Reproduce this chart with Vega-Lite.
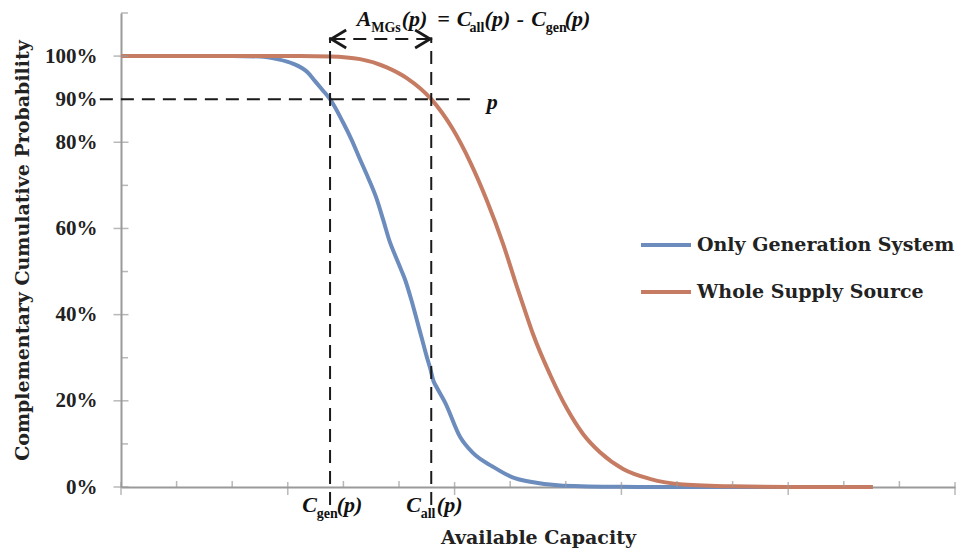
{
  "$schema": "https://vega.github.io/schema/vega-lite/v6.json",
  "width": 834,
  "height": 474,
  "autosize": {"type": "none"},
  "padding": {"left": 121, "top": 13, "right": 5, "bottom": 61},
  "background": "white",
  "config": {"view": {"stroke": null}},
  "datasets": {
    "curves": [
      {"series": "Only Generation System", "x": 0, "y": 100},
      {"series": "Only Generation System", "x": 1, "y": 100},
      {"series": "Only Generation System", "x": 2, "y": 100},
      {"series": "Only Generation System", "x": 2.5, "y": 99.9},
      {"series": "Only Generation System", "x": 2.81, "y": 99.3},
      {"series": "Only Generation System", "x": 3.1, "y": 98.2},
      {"series": "Only Generation System", "x": 3.35, "y": 96.3},
      {"series": "Only Generation System", "x": 3.49, "y": 94.2},
      {"series": "Only Generation System", "x": 3.62, "y": 92.2},
      {"series": "Only Generation System", "x": 3.76, "y": 90.0},
      {"series": "Only Generation System", "x": 3.99, "y": 84.7},
      {"series": "Only Generation System", "x": 4.15, "y": 80.5},
      {"series": "Only Generation System", "x": 4.30, "y": 76.0},
      {"series": "Only Generation System", "x": 4.45, "y": 71.6},
      {"series": "Only Generation System", "x": 4.60, "y": 66.8},
      {"series": "Only Generation System", "x": 4.72, "y": 61.8},
      {"series": "Only Generation System", "x": 4.84, "y": 56.7},
      {"series": "Only Generation System", "x": 4.93, "y": 53.8},
      {"series": "Only Generation System", "x": 5.02, "y": 51.0},
      {"series": "Only Generation System", "x": 5.11, "y": 48.1},
      {"series": "Only Generation System", "x": 5.22, "y": 43.5},
      {"series": "Only Generation System", "x": 5.32, "y": 38.8},
      {"series": "Only Generation System", "x": 5.41, "y": 34.5},
      {"series": "Only Generation System", "x": 5.50, "y": 30.2},
      {"series": "Only Generation System", "x": 5.56, "y": 27.6},
      {"series": "Only Generation System", "x": 5.62, "y": 24.6},
      {"series": "Only Generation System", "x": 5.68, "y": 23.1},
      {"series": "Only Generation System", "x": 5.83, "y": 19.6},
      {"series": "Only Generation System", "x": 6.10, "y": 11.6},
      {"series": "Only Generation System", "x": 6.33, "y": 7.9},
      {"series": "Only Generation System", "x": 6.69, "y": 4.7},
      {"series": "Only Generation System", "x": 7.03, "y": 2.3},
      {"series": "Only Generation System", "x": 7.36, "y": 1.2},
      {"series": "Only Generation System", "x": 7.95, "y": 0.3},
      {"series": "Only Generation System", "x": 8.97, "y": 0.05},
      {"series": "Only Generation System", "x": 10, "y": 0},
      {"series": "Only Generation System", "x": 13.52, "y": 0},
      {"series": "Whole Supply Source", "x": 0, "y": 100},
      {"series": "Whole Supply Source", "x": 2, "y": 100},
      {"series": "Whole Supply Source", "x": 3.22, "y": 100},
      {"series": "Whole Supply Source", "x": 3.76, "y": 99.9},
      {"series": "Whole Supply Source", "x": 4.30, "y": 99.3},
      {"series": "Whole Supply Source", "x": 4.78, "y": 97.4},
      {"series": "Whole Supply Source", "x": 5.14, "y": 94.9},
      {"series": "Whole Supply Source", "x": 5.58, "y": 90.0},
      {"series": "Whole Supply Source", "x": 5.97, "y": 83.0},
      {"series": "Whole Supply Source", "x": 6.28, "y": 75.4},
      {"series": "Whole Supply Source", "x": 6.58, "y": 66.5},
      {"series": "Whole Supply Source", "x": 6.87, "y": 56.5},
      {"series": "Whole Supply Source", "x": 7.12, "y": 46.5},
      {"series": "Whole Supply Source", "x": 7.30, "y": 39.6},
      {"series": "Whole Supply Source", "x": 7.41, "y": 35.5},
      {"series": "Whole Supply Source", "x": 7.72, "y": 26.0},
      {"series": "Whole Supply Source", "x": 8.02, "y": 18.2},
      {"series": "Whole Supply Source", "x": 8.31, "y": 12.3},
      {"series": "Whole Supply Source", "x": 8.62, "y": 8.0},
      {"series": "Whole Supply Source", "x": 9.03, "y": 4.2},
      {"series": "Whole Supply Source", "x": 9.51, "y": 1.9},
      {"series": "Whole Supply Source", "x": 10.11, "y": 0.6},
      {"series": "Whole Supply Source", "x": 11.0, "y": 0.15},
      {"series": "Whole Supply Source", "x": 12.0, "y": 0.02},
      {"series": "Whole Supply Source", "x": 13.52, "y": 0}
    ],
    "guides": [
      {"x": -0.38, "x2": 6.35, "y": 90, "y2": 90},
      {"x": 3.76, "x2": 3.76, "y": -4.2, "y2": 104.4},
      {"x": 5.58, "x2": 5.58, "y": -4.2, "y2": 104.4},
      {"x": 3.80, "x2": 5.54, "y": 103.95, "y2": 103.95}
    ],
    "arrows": [
      {"x": 3.78, "y": 103.95, "dir": "left"},
      {"x": 5.56, "y": 103.95, "dir": "right"}
    ],
    "yticks": [
      {"v": 0, "major": true}, {"v": 10, "major": false}, {"v": 20, "major": true},
      {"v": 30, "major": false}, {"v": 40, "major": true}, {"v": 50, "major": false},
      {"v": 60, "major": true}, {"v": 70, "major": false}, {"v": 80, "major": true},
      {"v": 100, "major": true}, {"v": 110, "major": false}
    ],
    "xticks": [
      {"v": 0, "major": true}, {"v": 1, "major": false}, {"v": 2, "major": false},
      {"v": 3, "major": true}, {"v": 4, "major": false}, {"v": 5, "major": false},
      {"v": 6, "major": true}, {"v": 7, "major": false}, {"v": 8, "major": false},
      {"v": 9, "major": true}, {"v": 10, "major": false}, {"v": 11, "major": false},
      {"v": 12, "major": true}, {"v": 13, "major": false}, {"v": 14, "major": false},
      {"v": 15, "major": true}
    ],
    "notes": [
      {"t": "A", "x": 4.24, "y": 107.0, "kind": "main"},
      {"t": "MGs", "x": 4.50, "y": 105.6, "kind": "sub"},
      {"t": "(p)", "x": 5.05, "y": 107.0, "kind": "main"},
      {"t": "=", "x": 5.69, "y": 107.0, "kind": "main"},
      {"t": "C", "x": 6.04, "y": 107.0, "kind": "main"},
      {"t": "all", "x": 6.27, "y": 105.6, "kind": "sub"},
      {"t": "(p)", "x": 6.54, "y": 107.0, "kind": "main"},
      {"t": "-", "x": 7.12, "y": 107.0, "kind": "main"},
      {"t": "C", "x": 7.38, "y": 107.0, "kind": "main"},
      {"t": "gen", "x": 7.64, "y": 105.6, "kind": "sub"},
      {"t": "(p)", "x": 7.98, "y": 107.0, "kind": "main"},
      {"t": "C", "x": 3.26, "y": -5.8, "kind": "main"},
      {"t": "gen", "x": 3.52, "y": -7.2, "kind": "sub"},
      {"t": "(p)", "x": 3.88, "y": -5.8, "kind": "main"},
      {"t": "C", "x": 5.13, "y": -5.8, "kind": "main"},
      {"t": "all", "x": 5.39, "y": -7.2, "kind": "sub"},
      {"t": "(p)", "x": 5.68, "y": -5.8, "kind": "main"},
      {"t": "p", "x": 6.58, "y": 87.7, "kind": "main"}
    ]
  },
  "layer": [
    {
      "data": {"name": "curves"},
      "mark": {"type": "line", "strokeWidth": 4, "interpolate": "monotone"},
      "encoding": {
        "x": {
          "field": "x", "type": "quantitative",
          "scale": {"domain": [0, 15], "nice": false, "zero": false},
          "axis": {
            "title": "Available Capacity", "labels": false, "ticks": false, "grid": false,
            "domainColor": "#9a9a9a", "domainWidth": 2,
            "titleFont": "DejaVu Serif", "titleFontWeight": "bold", "titleFontSize": 19,
            "titleColor": "#222", "titlePadding": 41
          }
        },
        "y": {
          "field": "y", "type": "quantitative",
          "scale": {"domain": [0, 110], "nice": false},
          "axis": {
            "title": "Complementary Cumulative Probability",
            "values": [0, 20, 40, 60, 80, 90, 100],
            "labelExpr": "datum.value + '%'",
            "ticks": false, "grid": false, "tickSize": 0,
            "domainColor": "#9a9a9a", "domainWidth": 2,
            "labelFont": "Liberation Serif", "labelFontWeight": "bold", "labelFontSize": 21,
            "labelColor": "#222", "labelPadding": 24,
            "titleFont": "DejaVu Serif", "titleFontWeight": "bold", "titleFontSize": 19,
            "titleColor": "#222", "titlePadding": 12
          }
        },
        "color": {
          "field": "series", "type": "nominal",
          "scale": {"domain": ["Only Generation System", "Whole Supply Source"], "range": ["#6b8cbd", "#c57c63"]},
          "legend": {
            "title": null, "orient": "none", "legendX": 518, "legendY": 205,
            "symbolType": "stroke", "symbolSize": 2500, "symbolStrokeWidth": 4,
            "labelFont": "DejaVu Serif", "labelFontWeight": "bold", "labelFontSize": 19,
            "labelColor": "#222", "labelOffset": 4, "rowPadding": 10, "padding": 0,
            "labelLimit": 400
          }
        },
        "detail": {"field": "series"}
      }
    },
    {
      "data": {"name": "guides"},
      "mark": {"type": "rule", "color": "#1a1a1a", "strokeWidth": 2, "strokeDash": [13, 8]},
      "encoding": {
        "x": {"field": "x", "type": "quantitative"},
        "x2": {"field": "x2"},
        "y": {"field": "y", "type": "quantitative"},
        "y2": {"field": "y2"}
      }
    },
    {
      "data": {"name": "arrows"},
      "mark": {"type": "point", "filled": false, "strokeWidth": 2.8, "color": "#1a1a1a", "opacity": 1},
      "encoding": {
        "x": {"field": "x", "type": "quantitative"},
        "y": {"field": "y", "type": "quantitative"},
        "shape": {
          "field": "dir", "type": "nominal", "legend": null,
          "scale": {"domain": ["left", "right"], "range": ["M1,-0.6L0,0L1,0.6", "M-1,-0.6L0,0L-1,0.6"]}
        },
        "size": {"value": 900}
      }
    },
    {
      "data": {"name": "yticks"},
      "transform": [{"filter": "datum.major"}],
      "mark": {"type": "tick", "orient": "horizontal", "size": 15, "thickness": 1.5, "color": "#9a9a9a"},
      "encoding": {
        "x": {"datum": 0, "type": "quantitative"},
        "y": {"field": "v", "type": "quantitative"}
      }
    },
    {
      "data": {"name": "yticks"},
      "transform": [{"filter": "!datum.major"}],
      "mark": {"type": "tick", "orient": "horizontal", "size": 7, "thickness": 1.5, "color": "#9a9a9a", "xOffset": 3.5},
      "encoding": {
        "x": {"datum": 0, "type": "quantitative"},
        "y": {"field": "v", "type": "quantitative"}
      }
    },
    {
      "data": {"name": "xticks"},
      "transform": [{"filter": "datum.major"}],
      "mark": {"type": "tick", "orient": "vertical", "size": 13, "thickness": 1.5, "color": "#9a9a9a", "yOffset": 1.5},
      "encoding": {
        "x": {"field": "v", "type": "quantitative"},
        "y": {"datum": 0, "type": "quantitative"}
      }
    },
    {
      "data": {"name": "xticks"},
      "transform": [{"filter": "!datum.major"}],
      "mark": {"type": "tick", "orient": "vertical", "size": 6, "thickness": 1.5, "color": "#9a9a9a", "yOffset": -3},
      "encoding": {
        "x": {"field": "v", "type": "quantitative"},
        "y": {"datum": 0, "type": "quantitative"}
      }
    },
    {
      "data": {"name": "notes"},
      "transform": [{"filter": "datum.kind == 'main'"}],
      "mark": {"type": "text", "align": "left", "baseline": "alphabetic", "font": "Liberation Serif", "fontStyle": "italic", "fontWeight": "bold", "fontSize": 22, "color": "#111"},
      "encoding": {
        "x": {"field": "x", "type": "quantitative"},
        "y": {"field": "y", "type": "quantitative"},
        "text": {"field": "t"}
      }
    },
    {
      "data": {"name": "notes"},
      "transform": [{"filter": "datum.kind == 'sub'"}],
      "mark": {"type": "text", "align": "left", "baseline": "alphabetic", "font": "Liberation Serif", "fontWeight": "bold", "fontSize": 14, "color": "#111"},
      "encoding": {
        "x": {"field": "x", "type": "quantitative"},
        "y": {"field": "y", "type": "quantitative"},
        "text": {"field": "t"}
      }
    }
  ]
}
